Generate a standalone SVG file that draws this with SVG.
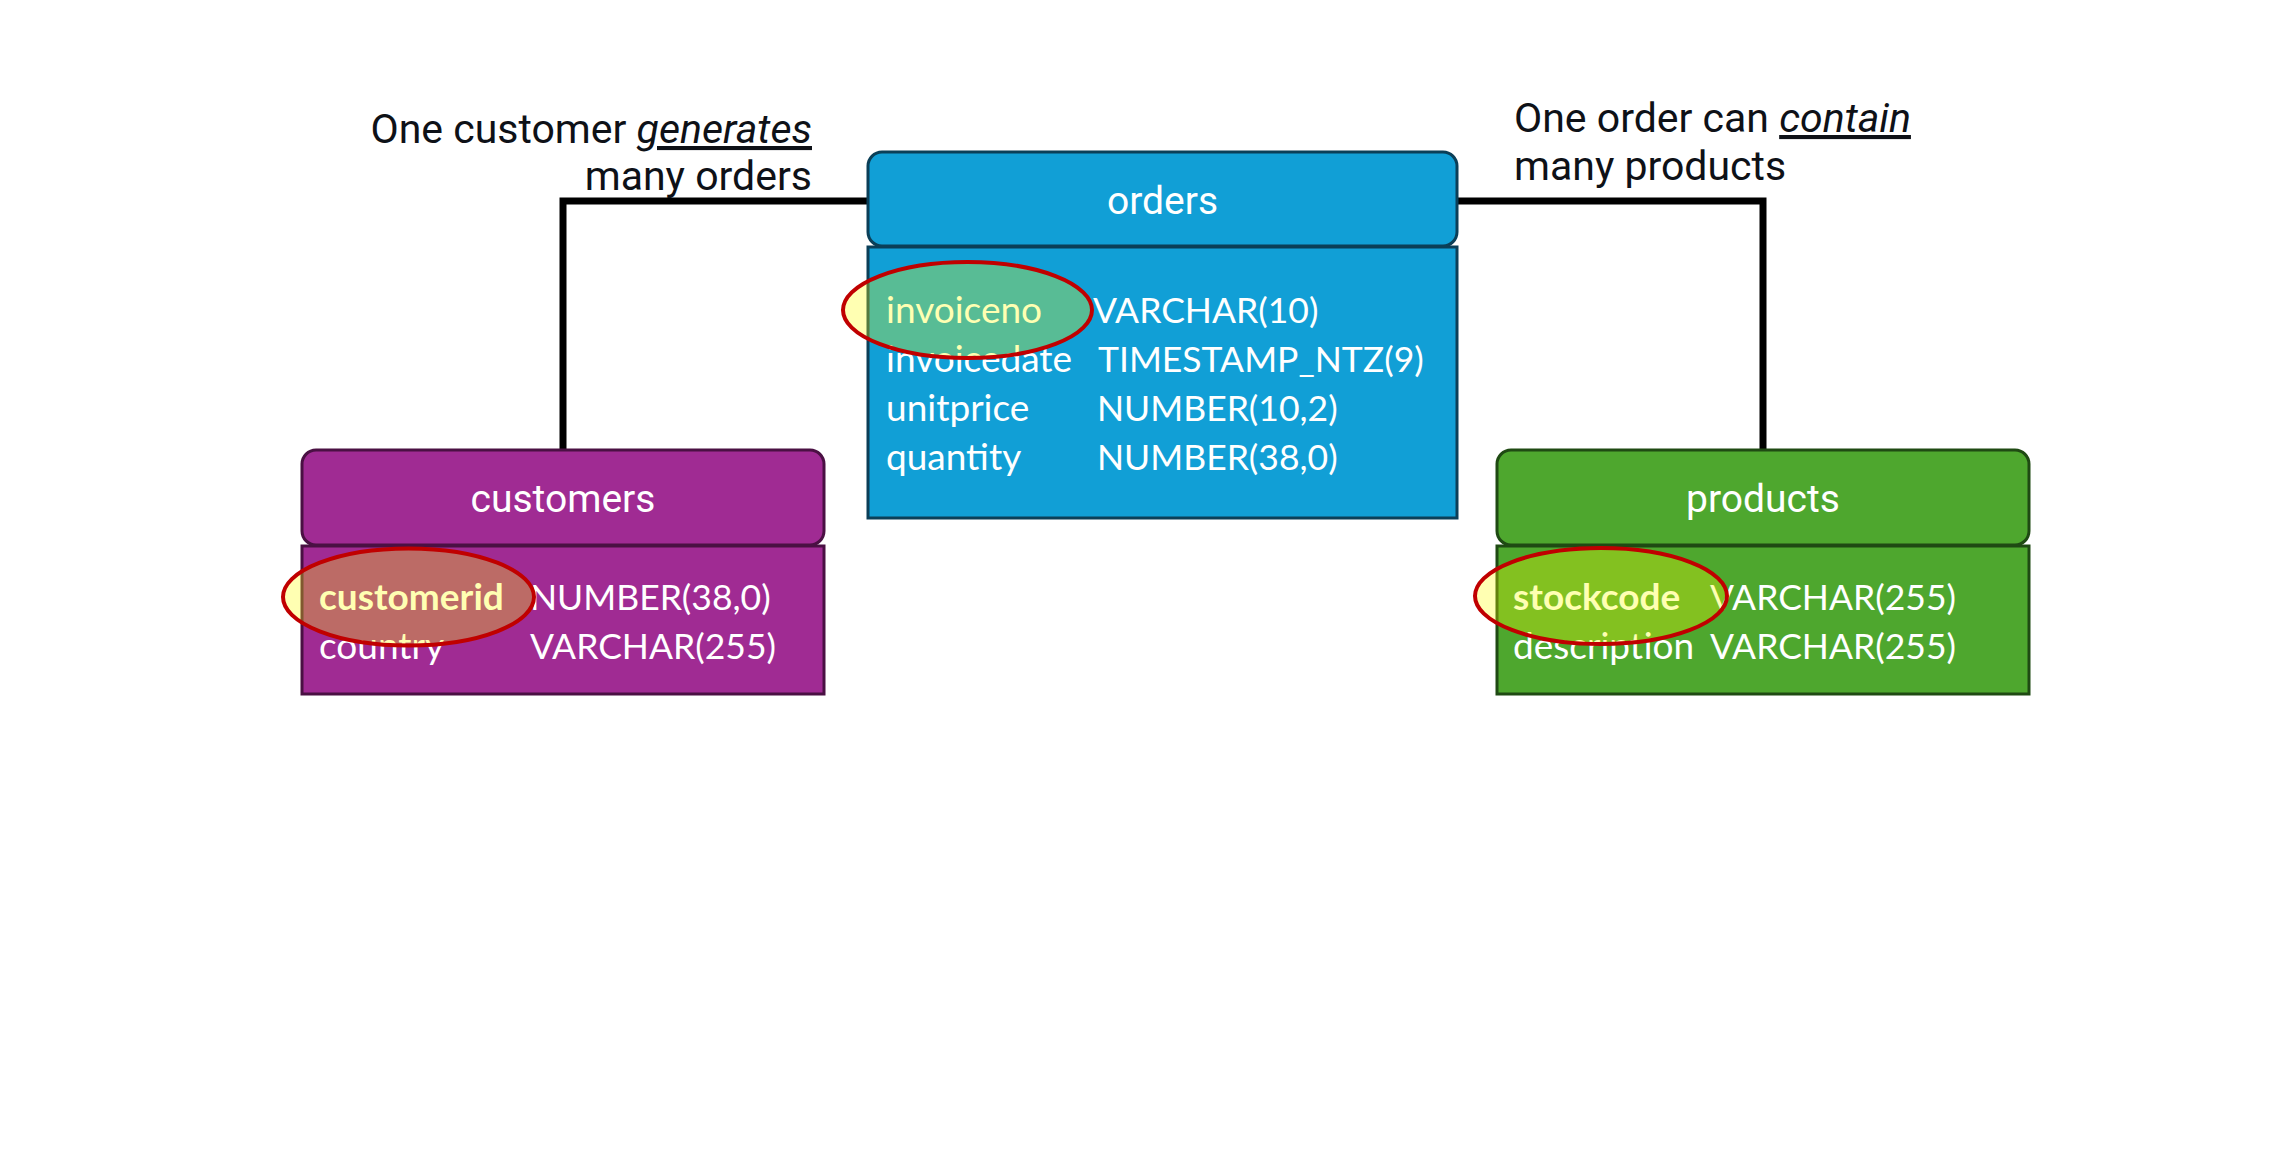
<svg xmlns="http://www.w3.org/2000/svg" width="2296" height="1154" viewBox="0 0 2296 1154">
<style>
  .ann { font-family: Roboto, "Liberation Sans", sans-serif; font-size: 41px; fill: #0E1117; }
  .em { font-style: italic; text-decoration: underline; }
  .hdr { font-family: Roboto, "Liberation Sans", sans-serif; font-size: 39px; fill: #FFFFFF; text-anchor: middle; }
  .fld { font-family: Lato, "Liberation Sans", sans-serif; font-size: 37px; fill: #FFFFFF; }
  .typ { font-family: Lato, "Liberation Sans", sans-serif; font-size: 35.5px; fill: #FFFFFF; }
  .key { font-weight: bold; }
  .hl { fill: #FFFF00; fill-opacity: 0.3; stroke: #C00000; stroke-width: 4; }
  .conn { fill: none; stroke: #000000; stroke-width: 7; }
</style>
<rect x="0" y="0" width="2296" height="1154" fill="#FFFFFF"/>

<g id="connectors">
  <path class="conn" d="M 868 201 H 563 V 450"/>
  <path class="conn" d="M 1457 201 H 1763 V 450"/>
</g>

<g id="label-customers-orders">
  <text class="ann" x="812" y="143" text-anchor="end">One customer <tspan class="em">generates</tspan></text>
  <text class="ann" x="812" y="190" text-anchor="end">many orders</text>
</g>

<g id="label-orders-products">
  <text class="ann" x="1514" y="132">One order can <tspan class="em">contain</tspan></text>
  <text class="ann" x="1514" y="180">many products</text>
</g>

<g id="orders">
  <rect x="868" y="247" width="589" height="271" fill="#119FD6" stroke="#0B3F58" stroke-width="3"/>
  <rect x="868" y="152" width="589" height="94" rx="14" ry="14" fill="#119FD6" stroke="#0B3F58" stroke-width="3"/>
  <text class="hdr" x="1162.5" y="214">orders</text>
  <text class="fld" x="886" y="323">invoiceno</text>
  <text class="typ" x="1093" y="323">VARCHAR(10)</text>
  <text class="fld" x="886" y="372">invoicedate</text>
  <text class="typ" x="1098" y="372">TIMESTAMP_NTZ(9)</text>
  <text class="fld" x="886" y="421">unitprice</text>
  <text class="typ" x="1097" y="421">NUMBER(10,2)</text>
  <text class="fld" x="886" y="470">quantity</text>
  <text class="typ" x="1097" y="470">NUMBER(38,0)</text>
  <ellipse class="hl" cx="967.5" cy="310" rx="124.5" ry="48"/>
</g>

<g id="customers">
  <rect x="302" y="546" width="522" height="148" fill="#A02B93" stroke="#4A1043" stroke-width="3"/>
  <rect x="302" y="450" width="522" height="95" rx="14" ry="14" fill="#A02B93" stroke="#4A1043" stroke-width="3"/>
  <text class="hdr" x="563" y="512">customers</text>
  <text class="fld key" x="319" y="610">customerid</text>
  <text class="typ" x="530" y="610">NUMBER(38,0)</text>
  <text class="fld" x="319" y="659">country</text>
  <text class="typ" x="530" y="659">VARCHAR(255)</text>
  <ellipse class="hl" cx="408.5" cy="597" rx="125.5" ry="48.5"/>
</g>

<g id="products">
  <rect x="1497" y="546" width="532" height="148" fill="#4EA72E" stroke="#1F4A13" stroke-width="3"/>
  <rect x="1497" y="450" width="532" height="95" rx="14" ry="14" fill="#4EA72E" stroke="#1F4A13" stroke-width="3"/>
  <text class="hdr" x="1763" y="512">products</text>
  <text class="fld key" x="1513" y="610">stockcode</text>
  <text class="typ" x="1710" y="610">VARCHAR(255)</text>
  <text class="fld" x="1513" y="659">description</text>
  <text class="typ" x="1710" y="659">VARCHAR(255)</text>
  <ellipse class="hl" cx="1601" cy="596" rx="126" ry="48"/>
</g>
</svg>
